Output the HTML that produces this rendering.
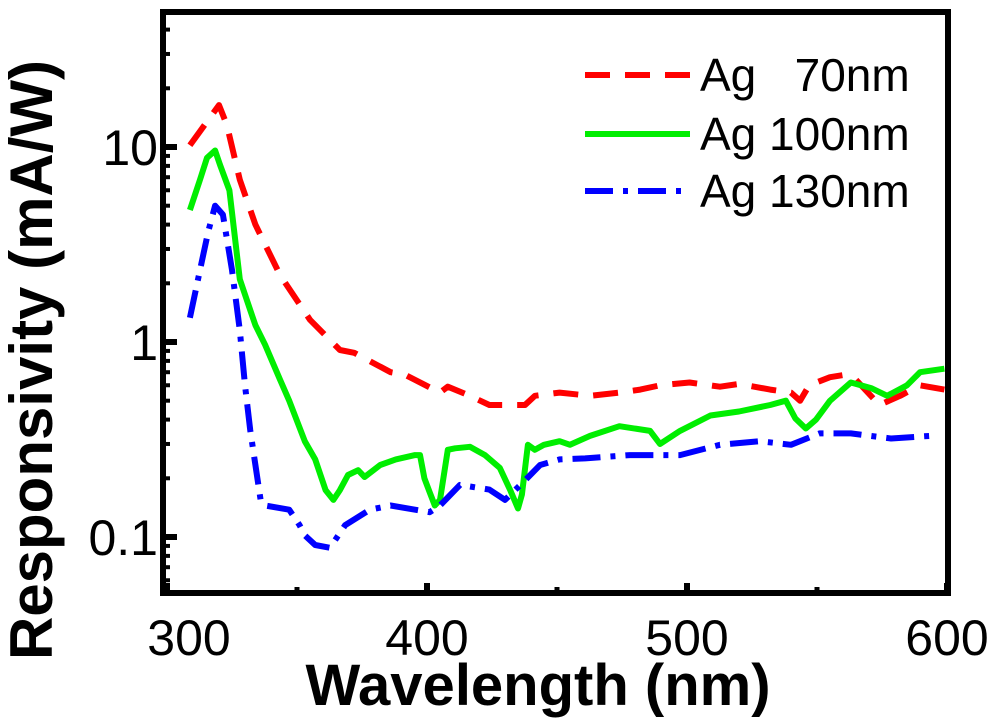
<!DOCTYPE html>
<html><head><meta charset="utf-8">
<style>
html,body{margin:0;padding:0;background:#fff;}
svg{display:block;font-family:"Liberation Sans",Arial,sans-serif;}
</style></head>
<body>
<svg id="chart" width="1000" height="721" viewBox="0 0 1000 721">
  <g id="plot"></g>
  <rect x="163" y="12" width="785" height="581" fill="none" stroke="#000" stroke-width="6"/>
  <g id="ticks"></g>
  <g id="labels"></g>
  <text x="538" y="705" text-anchor="middle" font-size="58" font-weight="bold">Wavelength (nm)</text>
  <text transform="translate(52,360) rotate(-90)" text-anchor="middle" font-size="60" font-weight="bold">Responsivity (mA/W)</text>
  <g>
    <g>
      <line x1="585" y1="75" x2="690" y2="75" stroke="#ff0000" stroke-width="6" stroke-dasharray="25,15"/>
      <text x="700" y="91" font-size="46" xml:space="preserve">Ag   70nm</text>
    </g>
    <g>
      <line x1="585" y1="134" x2="690" y2="134" stroke="#00ee00" stroke-width="6"/>
      <text x="700" y="150" font-size="46">Ag 100nm</text>
    </g>
    <g>
      <line x1="585" y1="191" x2="690" y2="191" stroke="#0000ff" stroke-width="6" stroke-dasharray="28,10,5,10"/>
      <text x="700" y="207" font-size="46">Ag 130nm</text>
    </g>
  </g>
</svg>
<script>
const xTicks = [300, 400, 500, 600];
const yTicks = [0.1, 1, 10];
const yTickLabels = ["0.1", "1", "10"];
const redW = [308.8,320,323,328,334,343.5,355,366.5,372,386,391.5,405,408,416.5,424,437.7,441.5,451,462.7,474,482,489.6,501,512.7,520,532,540,543.5,547,555,561,565,574,582,589.6,599];
const redV = [10.2,16.4,13,6.8,4.0,2.2,1.3,0.91,0.88,0.70,0.68,0.55,0.59,0.53,0.475,0.475,0.53,0.55,0.53,0.55,0.57,0.60,0.62,0.59,0.61,0.57,0.55,0.50,0.60,0.66,0.68,0.64,0.475,0.53,0.60,0.57];
const greenW = [308.8,312.7,315.4,318.5,320.4,324,328,332,334,337.7,343.5,347,353,357,361,364,366.5,369.6,373.5,376,382,388,395.4,397.3,399,401,403,405,408,410.8,416.5,422.3,428,432,435,436.5,438.8,441.5,445,451,455,462.7,474,485.8,489.6,497.3,509,520,532,538,541.7,545.7,549.6,555,563,570.8,577,584.6,589.6,599];
const greenV = [4.75,6.8,8.8,9.6,8.1,6.0,2.1,1.46,1.22,0.97,0.64,0.50,0.31,0.25,0.174,0.155,0.174,0.208,0.22,0.203,0.234,0.25,0.263,0.263,0.20,0.17,0.145,0.155,0.28,0.285,0.29,0.263,0.226,0.174,0.14,0.165,0.297,0.28,0.297,0.31,0.297,0.33,0.37,0.35,0.30,0.35,0.42,0.44,0.475,0.50,0.405,0.36,0.40,0.50,0.62,0.58,0.53,0.60,0.70,0.73];
const blueW = [308.8,312.7,315.8,318.5,321.5,325,328,330,332,334,336,337.7,347,351,353,357,362.7,368.5,378,386,395.4,401,405,412.7,424,430,437.7,443.5,451,460.8,478,497.3,512.7,528,540,551,563,578.5,593.5];
const blueV = [1.33,2.34,3.66,5.0,4.5,2.34,1.15,0.60,0.354,0.234,0.155,0.145,0.138,0.115,0.102,0.091,0.088,0.115,0.138,0.145,0.138,0.134,0.145,0.185,0.175,0.155,0.195,0.234,0.25,0.253,0.263,0.263,0.297,0.31,0.297,0.34,0.34,0.32,0.33];

const NS = "http://www.w3.org/2000/svg";
function xs(w){ return 167 + (w - 300) * 2.6; }
function ys(v){ return 342 - Math.log10(v) * 195; }

const plot = document.getElementById('plot');
function series(W, V, color, dash, name){
  const p = document.createElementNS(NS, 'path');
  let d = '';
  for (let i = 0; i < W.length; i++) d += (i ? 'L' : 'M') + xs(W[i]).toFixed(1) + ',' + ys(V[i]).toFixed(1);
  p.setAttribute('d', d);
  p.setAttribute('fill', 'none');
  p.setAttribute('stroke', color);
  p.setAttribute('stroke-width', '6');
  p.setAttribute('stroke-linejoin', 'round');
  if (dash) p.setAttribute('stroke-dasharray', dash);
  
  
  plot.appendChild(p);
}
series(redW, redV, '#ff0000', '25,15', 'series-ag-70nm');
series(greenW, greenV, '#00ee00', null, 'series-ag-100nm');
series(blueW, blueV, '#0000ff', '28,10,5,10', 'series-ag-130nm');

const ticks = document.getElementById('ticks');
function tl(x1, y1, x2, y2, w, name){
  const l = document.createElementNS(NS, 'line');
  l.setAttribute('x1', x1); l.setAttribute('y1', y1);
  l.setAttribute('x2', x2); l.setAttribute('y2', y2);
  l.setAttribute('stroke', '#000'); l.setAttribute('stroke-width', w);
  
  
  ticks.appendChild(l);
}
for (let w = 350; w < 600; w += 100) tl(xs(w), 593, xs(w), 587, 5, 'x-minor-tick');
xTicks.forEach(w => tl(xs(w), 593, xs(w), 583, 6, 'x-major-tick'));
for (let dec = -2; dec <= 1; dec++) {
  for (let m = 2; m <= 9; m++) {
    const v = m * Math.pow(10, dec);
    const y = ys(v);
    if (y > 15 && y < 590) tl(163, y, 170, y, 4, 'y-minor-tick');
  }
}
yTicks.forEach(v => tl(163, ys(v), 177, ys(v), 6, 'y-major-tick'));

const labels = document.getElementById('labels');
xTicks.forEach((w, i) => {
  const t = document.createElementNS(NS, 'text');
  t.setAttribute('x', xs(w) + (i === 0 ? 22 : 0));
  t.setAttribute('y', 655);
  t.setAttribute('text-anchor', 'middle');
  t.setAttribute('font-size', '50');
  t.textContent = w;
  
  
  labels.appendChild(t);
});
yTicks.forEach((v, i) => {
  const t = document.createElementNS(NS, 'text');
  t.setAttribute('x', 158);
  t.setAttribute('y', ys(v) + 18);
  t.setAttribute('text-anchor', 'end');
  t.setAttribute('font-size', '50');
  t.textContent = yTickLabels[i];
  
  
  labels.appendChild(t);
});
</script>
</body></html>
